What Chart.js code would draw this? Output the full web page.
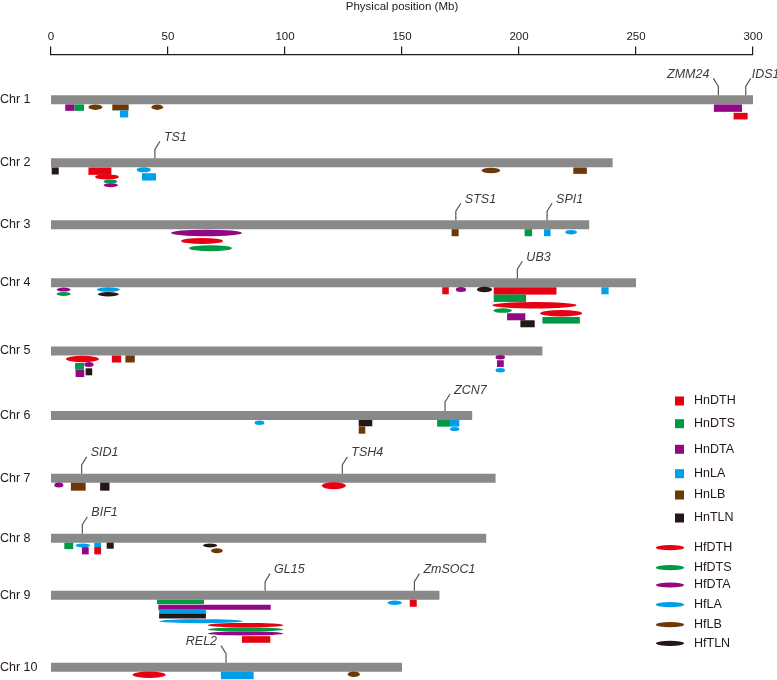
<!DOCTYPE html>
<html>
<head>
<meta charset="utf-8">
<script src="https://cdn.jsdelivr.net/npm/chart.js@4/dist/chart.umd.min.js"></script>
<style>
html, body { margin: 0; padding: 0; background: #fff; }
</style>
</head>
<body>
<canvas id="myChart" width="777" height="680"></canvas>
<script>
// chromosomes and their length (Mb)
const chrNames = ['Chr 1', 'Chr 2', 'Chr 3', 'Chr 4', 'Chr 5', 'Chr 6', 'Chr 7', 'Chr 8', 'Chr 9', 'Chr 10'];
const chrLength = [300, 240, 230, 250, 210, 180, 190, 186, 166, 150];
const xTicks = [0, 50, 100, 150, 200, 250, 300];

const hnTraits = ['HnDTH', 'HnDTS', 'HnDTA', 'HnLA', 'HnLB', 'HnTLN'];
const hfTraits = ['HfDTH', 'HfDTS', 'HfDTA', 'HfLA', 'HfLB', 'HfTLN'];

// QTL: chromosome, trait, start (Mb), end (Mb)
const qtlList = [
    [1, 'HnDTA', 6.1, 10.1], [1, 'HnDTS', 10.1, 14.1], [1, 'HfLB', 16, 22], [1, 'HnLB', 26.2, 33.2],
    [1, 'HnLA', 29.5, 33], [1, 'HfLB', 42.9, 47.9], [1, 'HnDTA', 283.3, 295.3], [1, 'HnDTH', 291.7, 297.7],

    [2, 'HnTLN', 0.3, 3.3], [2, 'HnDTH', 16, 25.8], [2, 'HfDTH', 18.8, 29], [2, 'HfDTS', 22.5, 28.3],
    [2, 'HfDTA', 22.5, 28.6], [2, 'HfLA', 36.6, 42.7], [2, 'HnLA', 38.9, 44.9], [2, 'HfLB', 184, 192],
    [2, 'HnLB', 223.2, 229],

    [3, 'HfDTA', 51.3, 81.6], [3, 'HfDTH', 55.6, 73.5], [3, 'HfDTS', 59, 77.3], [3, 'HnLB', 171.2, 174.2],
    [3, 'HnDTS', 202.4, 205.6], [3, 'HnLA', 210.7, 213.5], [3, 'HfLA', 219.7, 224.8],

    [4, 'HfDTA', 2.4, 8.4], [4, 'HfDTS', 2.4, 8.4], [4, 'HfLA', 19.5, 29.5], [4, 'HfTLN', 20, 29],
    [4, 'HnDTH', 167.2, 170], [4, 'HfDTA', 173, 177.4], [4, 'HfTLN', 182, 188.5], [4, 'HnDTH', 189.2, 216],
    [4, 'HnDTS', 189.2, 203], [4, 'HfDTH', 188.6, 224.6], [4, 'HfDTS', 189, 197], [4, 'HfDTH', 209, 227],
    [4, 'HnDTA', 194.9, 202.7], [4, 'HnDTS', 210, 226], [4, 'HnTLN', 200.6, 206.7], [4, 'HnLA', 235.2, 238.3],

    [5, 'HfDTH', 6.4, 20.5], [5, 'HnDTS', 10.3, 14.1], [5, 'HfDTA', 14.2, 18.2], [5, 'HnDTA', 10.5, 14.2],
    [5, 'HnTLN', 14.8, 17.6], [5, 'HnDTH', 26, 30], [5, 'HnLB', 31.8, 35.8], [5, 'HfDTA', 190, 194],
    [5, 'HnDTA', 190.6, 193.5], [5, 'HfLA', 190, 194],

    [6, 'HfLA', 87, 91.2], [6, 'HnTLN', 131.5, 137.3], [6, 'HnLB', 131.5, 134.3], [6, 'HnDTS', 165, 170.5],
    [6, 'HfLA', 170.5, 174.5], [6, 'HnLA', 170.5, 174.5],

    [7, 'HfDTA', 1.4, 5.3], [7, 'HnLB', 8.5, 14.8], [7, 'HnTLN', 21, 25], [7, 'HfDTH', 115.7, 126],

    [8, 'HnDTS', 5.7, 9.5], [8, 'HnDTA', 13.2, 16.1], [8, 'HfLA', 10.5, 16.7], [8, 'HnLA', 18.5, 21.4],
    [8, 'HnDTH', 18.5, 21.4], [8, 'HnTLN', 23.8, 26.8], [8, 'HfTLN', 65, 71], [8, 'HfLB', 68.4, 73.4],

    [9, 'HnDTS', 45.3, 65.4], [9, 'HnDTA', 45.9, 93.9], [9, 'HnLA', 46.2, 66.2], [9, 'HnTLN', 46.2, 66.2],
    [9, 'HfLA', 46.2, 82], [9, 'HfDTH', 67, 99.3], [9, 'HfDTS', 67, 99.3], [9, 'HfDTA', 67, 99.3],
    [9, 'HnDTH', 81.6, 93.7], [9, 'HfLA', 143.8, 150], [9, 'HnDTH', 153.3, 156.3],

    [10, 'HfDTH', 34.9, 49], [10, 'HnLA', 72.6, 86.6], [10, 'HfLB', 126.8, 132]
];

// candidate genes
const geneNames = ['ZMM24', 'IDS1', 'TS1', 'STS1', 'SPI1', 'UB3', 'ZCN7', 'SID1', 'TSH4', 'BIF1', 'GL15', 'ZmSOC1', 'REL2'];
const geneChr = [1, 1, 2, 3, 3, 4, 6, 7, 7, 8, 9, 9, 10];
const genePos = [285.2, 296.9, 44.4, 173, 212, 199.3, 168.4, 13.1, 124.5, 13.4, 91.5, 155.3, 74.8];

// ---- layout / style ----
const traitColors = { DTH: '#e60012', DTS: '#009944', DTA: '#920783', LA: '#00a0e9', LB: '#6a3906', TLN: '#231815' };
const trackY = [45.2, 108.2, 170, 228, 296.2, 360.7, 423.5, 483.3, 540.2, 612.2];   // row of each chromosome
const barH = 9;
const leftGenes = ['ZMM24', 'REL2'];
const tightGenes = ['IDS1'];
// vertical offset below the chromosome centre and mark height, one per qtl
const qtlLane = [
    [7.8, 6.4], [7.8, 6.4], [7.3, 5.5], [7.6, 6], [14.1, 7], [7.3, 5.5], [8.3, 7.4], [16.3, 6.6],
    [8.1, 7], [8.3, 7.4], [14, 5], [18.6, 4], [22.3, 4], [7, 5], [14, 7.3], [7.6, 5.5], [7.8, 6.4],
    [8.2, 6.5], [16.2, 6], [23.5, 6], [8, 7], [8, 7], [8, 7], [7.5, 4.5],
    [6.8, 4], [11.2, 4], [6.8, 4.5], [11.5, 4.5], [8, 7], [6.8, 5], [6.8, 5.5], [8.2, 7.3],
    [15.5, 7.4], [22.5, 6.5], [27.8, 4.5], [30.5, 6.5], [34, 7], [37.5, 6.6], [41, 7], [8, 7],
    [8, 6.5], [15.3, 6.6], [13.6, 5], [22.3, 7.4], [20.8, 7], [8, 7], [8, 7], [6.3, 4.5], [12.6, 6.7], [19.3, 4.5],
    [7.1, 4.5], [7.6, 6.3], [14.5, 7.3], [7.8, 6.6], [13.5, 4], [7.8, 6.6],
    [6.7, 5], [8.3, 8], [8.3, 8], [7.3, 7],
    [7.7, 6.4], [12.5, 7.3], [7.2, 4], [6.7, 4.4], [12.5, 7.3], [7.5, 6], [7.2, 4], [12.5, 5],
    [6.8, 4.4], [12.1, 5], [16.3, 4], [20.8, 5], [26, 4], [30, 4.5], [34.3, 4], [38.3, 4], [44.3, 6.6], [7.6, 4.5], [8.1, 7],
    [7.6, 6.5], [8.2, 7.7], [7, 5.5]
];

const FONT = "'Liberation Sans', Arial, Helvetica, sans-serif";
const TEXT = '#231815';
Chart.defaults.font.family = FONT;

// chromosome bars as one line dataset, broken by gaps
const chrPoints = [];
chrLength.forEach((len, i) => {
    chrPoints.push({ x: 0, y: trackY[i] }, { x: len, y: trackY[i] }, { x: len, y: null });
});

function traitColor(t) {
    return traitColors[t.slice(2)];
}

const mapPlugin = {
    id: 'qtlMap',
    afterDatasetsDraw(chart) {
        const { ctx, scales: { x, y } } = chart;
        ctx.save();

        // chromosome names
        ctx.fillStyle = TEXT;
        ctx.font = '12.5px ' + FONT;
        ctx.textAlign = 'left';
        ctx.textBaseline = 'middle';
        chrNames.forEach((n, i) => ctx.fillText(n, 0, y.getPixelForValue(trackY[i])));

        // QTL marks
        qtlList.forEach((q, i) => {
            const [chr, trait, s, e] = q;
            const [dy, h] = qtlLane[i];
            const x0 = x.getPixelForValue(s), x1 = x.getPixelForValue(e);
            const yc = y.getPixelForValue(trackY[chr - 1] + dy);
            ctx.fillStyle = traitColor(trait);
            if (trait.startsWith('Hn')) {
                ctx.fillRect(x0, yc - h / 2, x1 - x0, h);
            } else {
                ctx.beginPath();
                ctx.ellipse((x0 + x1) / 2, yc, (x1 - x0) / 2, h / 2, 0, 0, Math.PI * 2);
                ctx.fill();
            }
        });

        // genes with leader lines
        ctx.strokeStyle = '#595757';
        ctx.lineWidth = 1.2;
        ctx.font = 'italic 12.5px ' + FONT;
        geneNames.forEach((g, i) => {
            const px = x.getPixelForValue(genePos[i]);
            const top = y.getPixelForValue(trackY[geneChr[i] - 1] - barH / 2);
            const dir = leftGenes.includes(g) ? -1 : 1;
            const gap = tightGenes.includes(g) ? 6 : 9;
            ctx.beginPath();
            ctx.moveTo(px, top);
            ctx.lineTo(px, top - 9);
            ctx.lineTo(px + dir * 5, top - 17);
            ctx.stroke();
            ctx.fillStyle = '#3e3a39';
            ctx.textAlign = dir > 0 ? 'left' : 'right';
            ctx.fillText(g, px + dir * gap, top - 21);
        });

        // legend
        ctx.font = '12.5px ' + FONT;
        ctx.textAlign = 'left';
        const hnY = [401, 423.7, 449.3, 473.7, 495, 518];
        const hfY = [547.7, 567.7, 585, 604.7, 624.7, 643.3];
        hnTraits.forEach((t, i) => {
            ctx.fillStyle = traitColor(t);
            ctx.fillRect(675, hnY[i] - 4.5, 9, 9);
            ctx.fillStyle = TEXT;
            ctx.fillText(t, 694, hnY[i]);
        });
        hfTraits.forEach((t, i) => {
            ctx.fillStyle = traitColor(t);
            ctx.beginPath();
            ctx.ellipse(670, hfY[i], 14, 2.6, 0, 0, Math.PI * 2);
            ctx.fill();
            ctx.fillStyle = TEXT;
            ctx.fillText(t, 694, hfY[i]);
        });
        ctx.restore();
    }
};

const mapConfig = {
    type: 'scatter',
    data: {
        datasets: [{
            data: chrPoints,
            showLine: true,
            spanGaps: false,
            borderColor: '#898989',
            borderWidth: barH,
            borderCapStyle: 'butt',
            pointRadius: 0
        }]
    },
    options: {
        responsive: false,
        animation: false,
        layout: { padding: { left: 51, right: 24, top: 0, bottom: 0 } },
        plugins: {
            legend: { display: false },
            tooltip: { enabled: false }
        },
        scales: {
            x: {
                type: 'linear',
                position: 'top',
                min: 0,
                max: 300,
                afterBuildTicks: axis => { axis.ticks = xTicks.map(v => ({ value: v })); },
                grid: { display: true, drawOnChartArea: false, drawTicks: true, tickLength: 8, color: TEXT, lineWidth: 1.2 },
                border: { display: true, color: TEXT, width: 1.2 },
                ticks: { color: TEXT, font: { size: 11.5 }, padding: 3, maxRotation: 0 },
                title: {
                    display: true,
                    text: 'Physical position (Mb)',
                    color: TEXT,
                    font: { size: 11.5 },
                    padding: { top: 0, bottom: 13 }
                }
            },
            y: { type: 'linear', display: false, min: 0, max: 625, reverse: true }
        }
    },
    plugins: [mapPlugin]
};

new Chart('myChart', mapConfig);
</script>
</body>
</html>
